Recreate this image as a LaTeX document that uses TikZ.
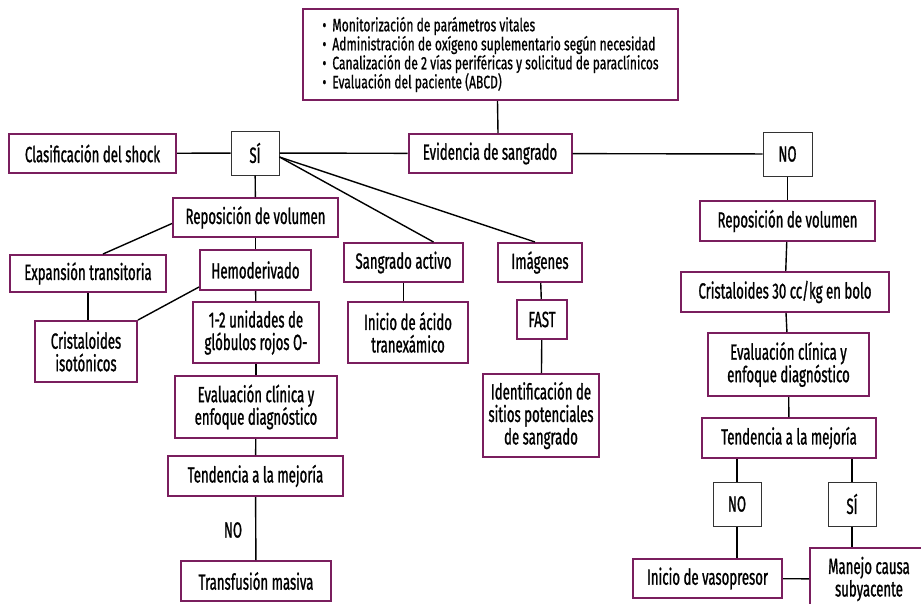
\documentclass[tikz,border=0pt]{standalone}
\usepackage{fontspec}
\setmainfont{Fira Sans}[FakeStretch=0.6, FakeBold=1]
\newfontfamily\listfam{Fira Sans}[FakeStretch=0.67, FakeBold=0.8]
\usepackage{tikz}
\usetikzlibrary{positioning}
\definecolor{vino}{RGB}{122,30,94}
\newcommand{\labelfont}{\fontsize{22}{22.5}\selectfont\lineskiplimit=-20pt\relax}
\newcommand{\listfont}{\listfam\fontsize{18}{19}\selectfont\lineskiplimit=-20pt\relax}
\tikzstyle{every node}+=[inner sep=0pt]
\tikzstyle{block} = [rectangle, draw=vino, line width=2pt, fill=white, text centered, align=center, font=\labelfont, minimum height=39pt]
\tikzstyle{choice} = [rectangle, draw=black!80, line width=1pt, fill=white, font=\labelfont, minimum width=48pt, minimum height=44pt]
\tikzstyle{line} = [draw, line width=1.4pt]
\tikzstyle{tag} = [font=\labelfont]

\begin{document}
\begin{tikzpicture}[x=1pt, y=-1pt]
            \useasboundingbox (0,0) rectangle (921,603);
            % Place nodes
            \node [block, minimum width=375pt, minimum height=91pt, align=left, font=\listfont] (inicio) at (490.5,54.5) {\textbullet\hspace{6pt}Monitorización de parámetros vitales\\\textbullet\hspace{6pt}Administración de oxígeno suplementario según necesidad\\\textbullet\hspace{6pt}Canalización de 2 vías periféricas y solicitud de paraclínicos\\\textbullet\hspace{6pt}Evaluación del paciente (ABCD)};
            \node [block, minimum width=163pt] (evid) at (490,153.5) {Evidencia de sangrado};
            \node [choice] (si) at (255,153) {SÍ};
            \node [block, minimum width=167pt] (clas) at (92.5,153.5) {Clasificación del shock};
            \node [choice, minimum width=49pt] (no) at (787.5,154) {NO};
            % rama SI
            \node [block, minimum width=165pt] (repa) at (255.5,217.5) {Reposición de volumen};
            \node [block, minimum width=156pt, minimum height=37pt] (expa) at (88,273.5) {Expansión transitoria};
            \node [block, minimum width=111pt, minimum height=40pt] (hemo) at (255.5,270) {Hemoderivado};
            \node [block, minimum width=102pt, minimum height=61pt] (cris) at (86,351.5) {Cristaloides\\isotónicos};
            \node [block, minimum width=126pt, minimum height=61pt] (unid) at (256,332.5) {1-2 unidades de\\glóbulos rojos O-};
            \node [block, minimum width=162pt, minimum height=62pt] (evaa) at (256,407) {Evaluación clínica y\\enfoque diagnóstico};
            \node [block, minimum width=175pt, minimum height=40pt] (tena) at (255.5,476) {Tendencia a la mejoría};
            \node [block, minimum width=150pt, minimum height=40pt] (trans) at (256,581) {Transfusión masiva};
            \node [tag] (noa) at (233,530) {NO};
            \node [block, minimum width=119pt] (sang) at (403.5,262.5) {Sangrado activo};
            \node [block, minimum width=120pt, minimum height=61pt] (acid) at (408,332.5) {Inicio de ácido\\tranexámico};
            \node [block, minimum width=84pt] (imag) at (540,262.5) {Imágenes};
            \node [block, minimum width=50pt] (fast) at (542,319.5) {FAST};
            \node [block, minimum width=116pt, minimum height=83pt] (iden) at (541,415.5) {Identificación de\\sitios potenciales\\de sangrado};
            % rama NO
            \node [block, minimum width=175pt, minimum height=40pt] (repb) at (787.5,221) {Reposición de volumen};
            \node [block, minimum width=208pt, minimum height=40pt] (cris30) at (785,292) {Cristaloides 30 cc/kg en bolo};
            \node [block, minimum width=161pt, minimum height=63pt] (evab) at (788.5,364.5) {Evaluación clínica y\\enfoque diagnóstico};
            \node [block, minimum width=174pt, minimum height=40pt] (tenb) at (789,438) {Tendencia a la mejoría};
            \node [choice] (nob) at (737,504) {NO};
            \node [choice] (sib) at (852,504) {SÍ};
            \node [block, minimum width=149pt] (vaso) at (707.5,578.5) {Inicio de vasopresor};
            \node [block, minimum width=118pt, minimum height=62pt] (mane) at (869,579) {Manejo causa\\subyacente};
            % Draw edges
            \path [line] ([xshift=7pt]inicio.south) -- ([xshift=8pt]evid.north);
            \path [line] (clas) -- (si);
            \path [line] (si) -- (evid);
            \path [line] (evid) -- (no);
            \path [line] (si) -- (repa);
            \path [line] ([yshift=-4pt]si.east) -- ([xshift=30pt]sang.north);
            \path [line] ([yshift=-4pt]si.east) -- ([xshift=-5pt]imag.north);
            \path [line] ([yshift=-6pt]repa.west) -- ([xshift=15pt]expa.north);
            \path [line] (repa) -- (hemo);
            \path [line] (expa.south) -- (expa.south |- cris.north);
            \path [line] ([yshift=4pt]hemo.south west) -- (cris.north east);
            \path [line] (hemo) -- (unid);
            \path [line] (unid) -- (evaa);
            \path [line] (evaa) -- (tena);
            \path [line] (tena) -- (trans);
            \path [line] (sang.south) -- (sang.south |- acid.north);
            \path [line] (imag) -- (fast);
            \path [line] (fast) -- (iden);
            \path [line] (no) -- (repb);
            \path [line] (repb) -- (cris30);
            \path [line] (cris30) -- (evab);
            \path [line] (evab) -- (tenb);
            \path [line] (nob.north |- tenb.south) -- (nob.north);
            \path [line] (sib.north |- tenb.south) -- (sib.north);
            \path [line] (nob.south) -- (nob.south |- vaso.north);
            \path [line] (sib.south) -- (sib.south |- mane.north);
            \path [line] (vaso) -- (mane);
\end{tikzpicture}
\end{document}
